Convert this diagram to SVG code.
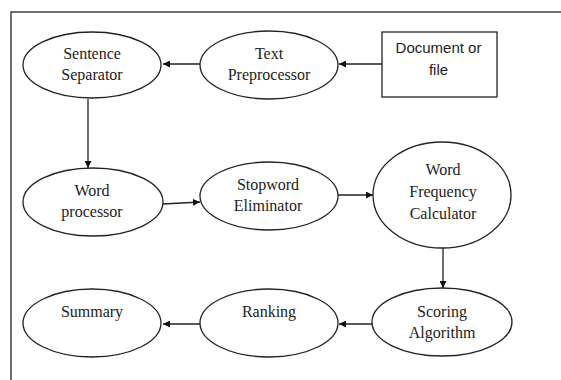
<svg xmlns="http://www.w3.org/2000/svg" width="561" height="380" viewBox="0 0 561 380">
<style>
.n{fill:#fff;stroke:#222;stroke-width:1.3}
.t{font-family:"Liberation Serif","Times New Roman",serif;font-size:16px;fill:#222;text-anchor:middle}
.s{font-family:"Liberation Sans",Arial,sans-serif;font-size:15px;fill:#222;text-anchor:middle}
.c{stroke:#222;stroke-width:1.3;fill:none;marker-end:url(#ah)}
</style>
<defs>
<marker id="ah" viewBox="0 0 10 10" refX="10" refY="5" markerWidth="7" markerHeight="7" markerUnits="userSpaceOnUse" orient="auto">
<path d="M0,0 L10,5 L0,10 z" fill="#111"/>
</marker>
</defs>
<rect x="0" y="0" width="561" height="380" fill="#fff"/>
<rect x="11" y="12" width="600" height="420" fill="none" stroke="#222" stroke-width="1.3"/>
<g id="connectors">
<line class="c" x1="382" y1="64" x2="339" y2="64"/>
<line class="c" x1="200" y1="64" x2="163" y2="64"/>
<line class="c" x1="88" y1="99" x2="88" y2="168"/>
<line class="c" x1="163" y1="204" x2="200" y2="202"/>
<line class="c" x1="338" y1="195" x2="373" y2="195"/>
<line class="c" x1="443" y1="248" x2="443" y2="288"/>
<line class="c" x1="372" y1="324" x2="339" y2="324"/>
<line class="c" x1="200" y1="324" x2="163" y2="324"/>
</g>
<g id="document">
<rect class="n" x="382" y="32" width="115" height="65"/>
<text class="s" x="438.5" y="53">Document or</text>
<text class="s" x="438.5" y="75">file</text>
</g>
<g id="text-preprocessor">
<ellipse class="n" cx="269" cy="65" rx="69" ry="34"/>
<text class="t" x="269" y="59">Text</text>
<text class="t" x="269" y="80">Preprocessor</text>
</g>
<g id="sentence-separator">
<ellipse class="n" cx="92" cy="65" rx="69" ry="33"/>
<text class="t" x="92" y="59">Sentence</text>
<text class="t" x="92" y="80">Separator</text>
</g>
<g id="word-processor">
<ellipse class="n" cx="93" cy="202" rx="70" ry="34"/>
<text class="t" x="92" y="196">Word</text>
<text class="t" x="92" y="217">processor</text>
</g>
<g id="stopword-eliminator">
<ellipse class="n" cx="269" cy="196" rx="69" ry="34"/>
<text class="t" x="268" y="190">Stopword</text>
<text class="t" x="268" y="211">Eliminator</text>
</g>
<g id="word-frequency-calculator">
<ellipse class="n" cx="442" cy="195" rx="69" ry="53"/>
<text class="t" x="443" y="175">Word</text>
<text class="t" x="443" y="197">Frequency</text>
<text class="t" x="443" y="219">Calculator</text>
</g>
<g id="scoring-algorithm">
<ellipse class="n" cx="442" cy="322" rx="70" ry="34"/>
<text class="t" x="442" y="317">Scoring</text>
<text class="t" x="442" y="338">Algorithm</text>
</g>
<g id="ranking">
<ellipse class="n" cx="269" cy="323" rx="69" ry="34"/>
<text class="t" x="269" y="317">Ranking</text>
</g>
<g id="summary">
<ellipse class="n" cx="92" cy="323" rx="69" ry="34"/>
<text class="t" x="92" y="317">Summary</text>
</g>
</svg>
